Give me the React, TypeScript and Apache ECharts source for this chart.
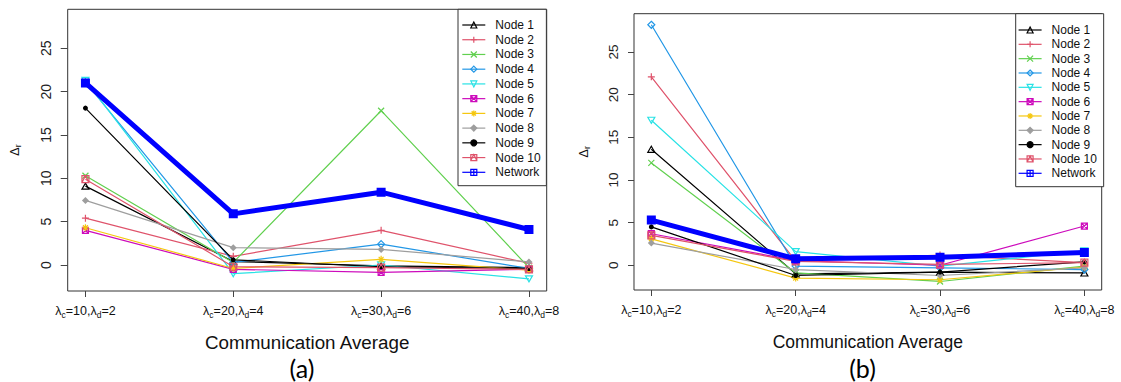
import React, { useEffect, useRef } from "react";
import * as echarts from "echarts";

// ---- data ----
const xPos = [1, 2, 3, 4];
const lambdaC = [10, 20, 30, 40];
const lambdaD = [2, 4, 6, 8];
const yTicks = [0, 5, 10, 15, 20, 25];

const seriesNames = ["Node 1", "Node 2", "Node 3", "Node 4", "Node 5", "Node 6", "Node 7", "Node 8", "Node 9", "Node 10", "Network"];

// panel (a)
const aNode1 = [9.1, 0.4, -0.1, -0.3];
const aNode2 = [5.4, 1.0, 4.0, 0.2];
const aNode3 = [10.3, 0.3, 17.8, -0.3];
const aNode4 = [21.1, 0.3, 2.4, -0.4];
const aNode5 = [21.3, -1.0, 0.0, -1.6];
const aNode6 = [4.0, -0.5, -0.85, -0.5];
const aNode7 = [4.3, -0.4, 0.65, -0.6];
const aNode8 = [7.45, 2.0, 1.8, 0.35];
const aNode9 = [18.1, 0.6, -0.2, -0.4];
const aNode10 = [9.9, -0.2, -0.3, -0.5];
const aNetwork = [21.0, 5.9, 8.4, 4.1];

// panel (b)
const bNode1 = [13.6, -1.0, -0.8, -0.9];
const bNode2 = [22.1, 0.5, 1.2, 0.3];
const bNode3 = [12.0, -0.9, -1.9, -0.1];
const bNode4 = [28.2, -0.1, -0.3, -0.5];
const bNode5 = [17.0, 1.6, -0.1, 1.7];
const bNode6 = [3.7, 0.55, 0.0, 4.6];
const bNode7 = [3.1, -1.5, -1.7, -0.2];
const bNode8 = [2.6, -0.5, -1.2, -0.3];
const bNode9 = [4.5, -1.2, -0.8, 0.4];
const bNode10 = [3.5, 0.45, 0.1, 0.3];
const bNetwork = [5.3, 0.75, 0.95, 1.5];

const panelA = [aNode1, aNode2, aNode3, aNode4, aNode5, aNode6, aNode7, aNode8, aNode9, aNode10, aNetwork];
const panelB = [bNode1, bNode2, bNode3, bNode4, bNode5, bNode6, bNode7, bNode8, bNode9, bNode10, bNetwork];

// ---- styles ----
const colors = ["#000000", "#DF536B", "#61D04F", "#2297E6", "#28E2E5", "#CD0BBC", "#F5C710", "#9E9E9E", "#000000", "#DF536B", "#0000FF"];
const symbols = [
  "path://M0,-10L8.66,5L-8.66,5Z",
  "path://M0,-10L0,10M-10,0L10,0",
  "path://M-10,-10L10,10M-10,10L10,-10",
  "path://M0,-10L10,0L0,10L-10,0Z",
  "path://M0,10L8.66,-5L-8.66,-5Z",
  "path://M-10,-10L10,-10L10,10L-10,10ZM-10,-10L10,10M-10,10L10,-10",
  "path://M0,-10L0,10M-10,0L10,0M-7,-7L7,7M-7,7L7,-7",
  "path://M0,-10L10,0L0,10L-10,0Z",
  "circle",
  "path://M-10,-10L10,-10L10,10L-10,10ZM-10,10L0,-10L10,10",
  "path://M-10,-10L10,-10L10,10L-10,10ZM0,-10L0,10M-10,0L10,0",
];
const filled = [false, false, false, false, false, false, false, true, true, false, true];
const sizes = [7, 7, 6, 7, 7, 6, 7, 7, 5, 7, 7];

const FONT = "'Liberation Sans', Arial, sans-serif";

function makeSeries(panel: number[][], idx: number, netWidth: number) {
  return panel.map((vals, i) => {
    const isNet = i === panel.length - 1;
    return {
      type: "line",
      name: seriesNames[i],
      xAxisIndex: idx,
      yAxisIndex: idx,
      data: vals.map((v, j) => [xPos[j], v]),
      symbol: symbols[i],
      symbolSize: sizes[i],
      symbolKeepAspect: true,
      showAllSymbol: true,
      lineStyle: { color: colors[i], width: isNet ? netWidth : 1.2 },
      itemStyle: {
        color: filled[i] ? colors[i] : "transparent",
        borderColor: colors[i],
        borderWidth: isNet ? 2 : i === 7 || i === 8 ? 0 : 1.2,
      },
      emphasis: { disabled: true },
      silent: true,
      z: isNet ? 3 : 2,
    };
  });
}

const xLabel = (v: number) => {
  const i = xPos.indexOf(v);
  if (i < 0) return "";
  return `{t|λ}{s|c}{t|=${lambdaC[i]},λ}{s|d}{t|=${lambdaD[i]}}`;
};

const xRich = {
  t: { fontSize: 12.5, fontFamily: FONT, color: "#111", lineHeight: 16 },
  s: { fontSize: 8.5, fontFamily: FONT, color: "#111", lineHeight: 8, verticalAlign: "bottom" as const },
};

function makeAxes(idx: number, ymin: number, ymax: number, yFont: number, tickLen: number, labelMargin: number, nameGapY: number, nameGapX: number, nameFont: number) {
  const xAxis = {
    type: "value",
    gridIndex: idx,
    min: 0.88,
    max: 4.12,
    axisLine: { show: false, onZero: false },
    splitLine: { show: false },
    axisTick: { show: true, length: 6, customValues: xPos, lineStyle: { color: "#444" } },
    axisLabel: { customValues: xPos, formatter: xLabel, margin: 12, rich: xRich },
    name: "Communication Average",
    nameLocation: "middle",
    nameGap: nameGapX,
    nameTextStyle: { fontSize: nameFont, fontFamily: FONT, color: "#111" },
  };
  const yAxis = {
    type: "value",
    gridIndex: idx,
    min: ymin,
    max: ymax,
    axisLine: { show: false, onZero: false },
    splitLine: { show: false },
    axisTick: { show: true, length: tickLen, customValues: yTicks, lineStyle: { color: "#444" } },
    axisLabel: { customValues: yTicks, rotate: 90, margin: labelMargin, fontSize: yFont, fontFamily: FONT, color: "#222" },
    name: "{d|Δ}{s|r}",
    nameLocation: "middle",
    nameRotate: 90,
    nameGap: nameGapY,
    nameTextStyle: {
      rich: {
        d: { fontSize: 13, fontFamily: FONT, color: "#111", lineHeight: 16 },
        s: { fontSize: 9, fontFamily: FONT, color: "#111", lineHeight: 9, verticalAlign: "bottom" as const },
      },
    },
  };
  return { xAxis, yAxis };
}

function makeLegend(left: number, top: number, padding: number[], gap: number) {
  return {
    show: true,
    orient: "vertical",
    left,
    top,
    padding,
    itemGap: gap,
    itemWidth: 23,
    itemHeight: 7.5,
    backgroundColor: "#fff",
    borderColor: "#333",
    borderWidth: 1,
    borderRadius: 0,
    selectedMode: false,
    textStyle: { fontSize: 12, fontFamily: FONT, color: "#111", lineHeight: 14, padding: [0, 0, 0, 5] },
    lineStyle: { width: 1.2 },
    itemStyle: { borderWidth: 1.2 },
    data: seriesNames.map((n) => (n === "Network" ? { name: n, itemStyle: { color: "transparent" } } : { name: n })),
  };
}

export default function App() {
  const ref = useRef<HTMLDivElement>(null);
  useEffect(() => {
    if (!ref.current) return;
    const chart = echarts.init(ref.current, undefined, { renderer: "svg" });
    const a = makeAxes(0, -3.0, 29.5, 14, 7, 15, 45, 42, 18.8);
    const b = makeAxes(1, -2.9, 29.5, 13.5, 6, 14, 43, 43, 17.5);
    chart.setOption({
      animation: false,
      backgroundColor: "#fff",
      grid: [
        { left: 67.7, top: 9.3, width: 479, height: 281.7, show: true, borderColor: "#333", borderWidth: 1, backgroundColor: "transparent" },
        { left: 634, top: 13.7, width: 467.7, height: 276.3, show: true, borderColor: "#333", borderWidth: 1, backgroundColor: "transparent" },
      ],
      xAxis: [a.xAxis, b.xAxis],
      yAxis: [a.yAxis, b.yAxis],
      legend: [makeLegend(458, 9.3, [8.7, 5.7, 6.4, 3.7], 0.73), makeLegend(1015.7, 13.7, [9.3, 6.7, 6.4, 2.3], 0.33)],
      graphic: [
        { type: "text", x: 302, y: 368, style: { text: "(a)", fontSize: 25, fontFamily: "Lato", fill: "#000", align: "center", verticalAlign: "middle" } },
        { type: "text", x: 862.5, y: 368, style: { text: "(b)", fontSize: 25, fontFamily: "Lato", fill: "#000", align: "center", verticalAlign: "middle" } },
      ],
      series: [...makeSeries(panelA, 0, 5), ...makeSeries(panelB, 1, 5)],
    });
    return () => chart.dispose();
  }, []);
  return <div ref={ref} style={{ position: "absolute", left: 0, top: 0, width: 1121, height: 382, background: "#fff" }} />;
}
